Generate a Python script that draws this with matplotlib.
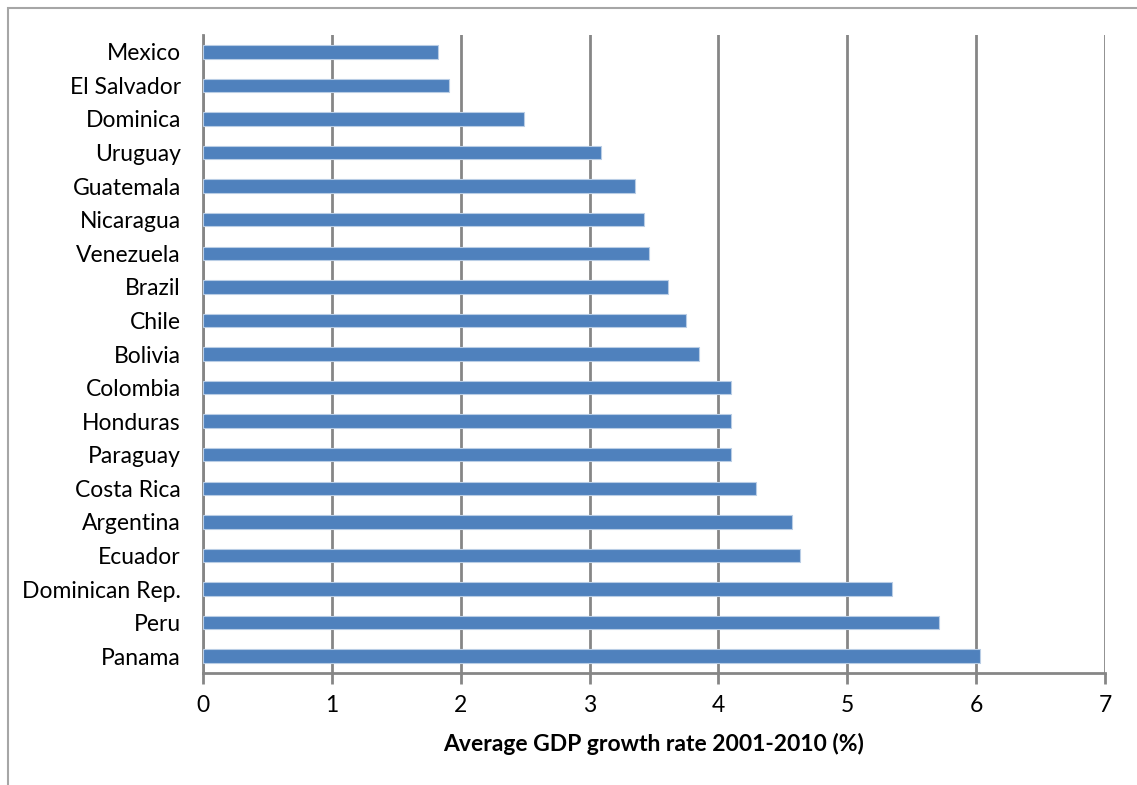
import matplotlib.pyplot as plt
from matplotlib.patches import Rectangle

# average GDP growth 2001-2010, top to bottom as listed
countries = ['Mexico', 'El Salvador', 'Dominica', 'Uruguay', 'Guatemala', 'Nicaragua',
             'Venezuela', 'Brazil', 'Chile', 'Bolivia', 'Colombia', 'Honduras',
             'Paraguay', 'Costa Rica', 'Argentina', 'Ecuador', 'Dominican Rep.',
             'Peru', 'Panama']
growth = [1.82, 1.91, 2.49, 3.09, 3.35, 3.42, 3.46, 3.61, 3.75, 3.85,
          4.10, 4.10, 4.10, 4.29, 4.57, 4.63, 5.35, 5.71, 6.03]
xticks = [0, 1, 2, 3, 4, 5, 6, 7]

plt.rcParams['font.family'] = ['Lato', 'DejaVu Sans']

W, H = 1137, 785
fig = plt.figure(figsize=(W / 100, H / 100), dpi=100)
ax = fig.add_axes([203 / W, 1 - 673 / H, (1105 - 203) / W, (673 - 35) / H])

grey = '#868686'
pos = list(range(len(countries)))
ax.barh(pos, growth, height=0.4, color='#4f81bd', edgecolor='#b9cde5', linewidth=0.8, zorder=3)
ax.set_ylim(len(countries) - 0.5, -0.5)
ax.set_yticks(pos)
ax.set_yticklabels(countries, fontsize=16.5)
ax.tick_params(axis='y', length=0, pad=16)

ax.set_xlim(0, 7)
ax.set_xticks(xticks)
ax.set_xticklabels([str(t) for t in xticks], fontsize=16.5)
ax.tick_params(axis='x', length=8, width=2, color=grey, pad=8)
ax.grid(axis='x', color=grey, linewidth=2, zorder=0)
ax.set_axisbelow(True)

for s in ['top', 'right']:
    ax.spines[s].set_visible(False)
for s in ['left', 'bottom']:
    ax.spines[s].set_color(grey)
    ax.spines[s].set_linewidth(2)

ax.set_xlabel('Average GDP growth rate 2001-2010 (%)', fontsize=16.5, fontweight='bold', labelpad=12)

# outer chart border
fig.patches.append(Rectangle((8 / W, -0.1), 1.2, 1 - 8 / H + 0.1, transform=fig.transFigure,
                             fill=False, edgecolor='#a6a6a6', linewidth=1.5))

fig.savefig('out.png', dpi=100)
